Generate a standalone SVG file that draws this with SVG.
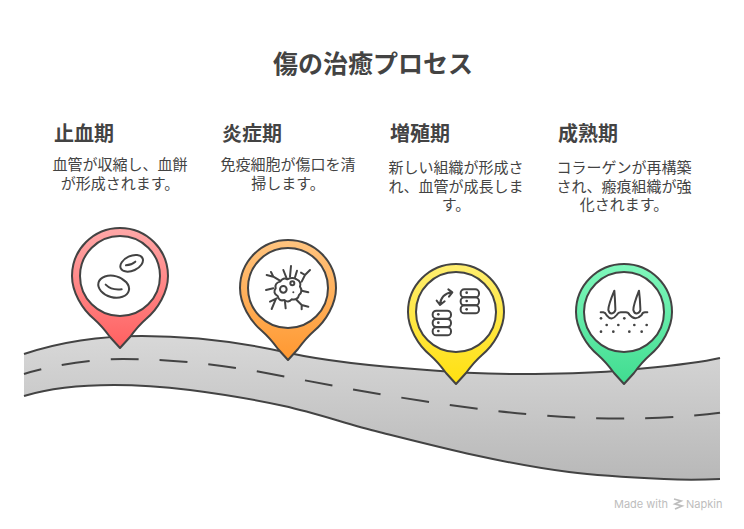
<svg xmlns="http://www.w3.org/2000/svg" width="744" height="529" viewBox="0 0 744 529">
<style>
text{font-family:"Noto Sans CJK JP","Noto Sans",sans-serif;fill:#434343}
.t{font-size:25px;font-weight:700;text-anchor:middle}
.h{font-size:20px;font-weight:700}
.b{font-size:15px;text-anchor:middle}
.pin{stroke:#434343;stroke-width:2;stroke-linejoin:round}
.in{fill:#fff;stroke:#434343;stroke-width:2}
.ic{fill:none;stroke:#434343;stroke-width:6;stroke-linecap:round;stroke-linejoin:round}
.d{fill:#434343;stroke:none}
.edge{fill:none;stroke:#434343;stroke-width:2}
.wm{font-family:"Inter","Roboto",sans-serif;font-size:11px;fill:#bdbdbd}
</style>
<defs>
<linearGradient id="road" x1="0" y1="0" x2="0" y2="1"><stop offset="0" stop-color="#d8d8d8"/><stop offset="1" stop-color="#b8b8b8"/></linearGradient>
<linearGradient id="g1" x1="0" y1="0" x2="0" y2="1"><stop offset="0" stop-color="#ffa8a8"/><stop offset="1" stop-color="#ff6060"/></linearGradient>
<linearGradient id="g2" x1="0" y1="0" x2="0" y2="1"><stop offset="0" stop-color="#ffc47f"/><stop offset="1" stop-color="#ff9830"/></linearGradient>
<linearGradient id="g3" x1="0" y1="0" x2="0" y2="1"><stop offset="0" stop-color="#ffee70"/><stop offset="1" stop-color="#ffe010"/></linearGradient>
<linearGradient id="g4" x1="0" y1="0" x2="0" y2="1"><stop offset="0" stop-color="#80f8bc"/><stop offset="1" stop-color="#40dc90"/></linearGradient>
<path id="pin" d="M0 72L-10 61Q-18 50-26 43C-38 33-48 16-48 0A48 48 0 1 1 48 0C48 16 38 33 26 43Q18 50 10 61Z"/>
</defs>
<text id="title" class="t" x="373" y="73">傷の治癒プロセス</text>
<g id="road-band">
<path fill="url(#road)" d="M24 354C60 342 100 336 142 336C195 336 245 343 289 353C330 362 385 367 427 370C460 373 490 374 521 374C560 374 590 373 616 371C655 367 690 365 720 358V479C700 480 682 480 664 479C632 477.500 601 476 569 472C537 468 506 462 474 455C442 448 411 440 379 432C347 424 316 413 284 406C252 399 221 394 190 390C165 387 140 385 114 385C85 385 50 388 24 396Z"/>
</g>
<g id="connectors">
<path class="edge" d="M24 354C60 342 100 336 142 336C195 336 245 343 289 353C330 362 385 367 427 370C460 373 490 374 521 374C560 374 590 373 616 371C655 367 690 365 720 358"/>
<path class="edge" d="M720 479C700 480 682 480 664 479C632 477.500 601 476 569 472C537 468 506 462 474 455C442 448 411 440 379 432C347 424 316 413 284 406C252 399 221 394 190 390C165 387 140 385 114 385C85 385 50 388 24 396"/>
<path class="edge" stroke-dasharray="28 21" stroke-dashoffset="10" d="M24 374C50 366 90 359 123 359C165 359 205 363 250 370C300 379 350 390 423 401C470 408.500 530 416 590 418C630 419.500 680 418 720 412.700"/>
</g>
<g id="node-hemostasis">
<text class="h" x="54" y="141">止血期</text>
<text class="b" y="170.300"><tspan x="120">血管が収縮し、血餅</tspan><tspan x="120" dy="18.500">が形成されます。</tspan></text>
<use href="#pin" class="pin" fill="url(#g1)" transform="translate(120 276)"/>
<circle class="in" cx="120" cy="276" r="40"/>
<g transform="translate(50 220) scale(.3333)" class="ic">
<ellipse cx="191" cy="200" rx="47" ry="32" transform="rotate(15 191 200)"/>
<path d="M167 194Q185 212 215 208"/>
<ellipse cx="245" cy="130" rx="36" ry="22" transform="rotate(-25 245 130)"/>
<path d="M228 136Q245 135 256 125"/>
</g>
</g>
<g id="node-inflammation">
<text class="h" x="222" y="141">炎症期</text>
<text class="b" y="170.300"><tspan x="288">免疫細胞が傷口を清</tspan><tspan x="288" dy="18.500">掃します。</tspan></text>
<use href="#pin" class="pin" fill="url(#g2)" transform="translate(288 288)"/>
<circle class="in" cx="288" cy="288" r="40"/>
<g transform="translate(255 260) scale(.3333)" class="ic">
<path d="M75 65Q85 50 97 58Q112 50 125 58Q140 65 135 80Q145 95 132 105Q128 122 110 118Q100 130 88 120Q72 125 68 108Q52 98 62 85Q58 70 75 65Z"/>
<circle cx="85" cy="88" r="10"/>
<circle cx="112" cy="70" r="6"/>
<circle class="d" cx="115" cy="97" r="3"/>
<path d="M75 62L55 50L35 45M55 50L48 36M95 55L85 30M105 50L108 18M120 52L126 32M140 65L150 45L165 30M150 45L138 38M55 85L33 90M140 92L160 97M65 115L45 125M62 118L50 147M90 125L92 145M125 120L140 135L140 148M140 135L160 140"/>
</g>
</g>
<g id="node-proliferation">
<text class="h" x="390" y="141">増殖期</text>
<text class="b" y="173"><tspan x="456">新しい組織が形成さ</tspan><tspan x="456" dy="18.500">れ、血管が成長しま</tspan><tspan x="456" dy="18.500">す。</tspan></text>
<use href="#pin" class="pin" fill="url(#g3)" transform="translate(456 312)"/>
<circle class="in" cx="456" cy="312" r="40"/>
<g transform="translate(420 280) scale(.3333)" class="ic">
<rect x="38" y="92" width="55" height="24" rx="11"/>
<rect x="38" y="117" width="55" height="24" rx="11"/>
<rect x="38" y="142" width="55" height="24" rx="11"/>
<rect x="122" y="28" width="55" height="24" rx="11"/>
<rect x="122" y="52" width="55" height="24" rx="11"/>
<rect x="122" y="76" width="55" height="24" rx="11"/>
<circle class="d" cx="55" cy="103" r="4"/><circle class="d" cx="55" cy="128" r="4"/><circle class="d" cx="55" cy="153" r="4"/>
<circle class="d" cx="140" cy="38" r="4"/><circle class="d" cx="140" cy="63" r="4"/><circle class="d" cx="140" cy="88" r="4"/>
<path d="M60 75Q62 42 96 37M85 28L97 37L87 50M50 62L60 75L74 64"/>
</g>
</g>
<g id="node-maturation">
<text class="h" x="558" y="141">成熟期</text>
<text class="b" y="173"><tspan x="624">コラーゲンが再構築</tspan><tspan x="624" dy="18.500">され、瘢痕組織が強</tspan><tspan x="624" dy="18.500">化されます。</tspan></text>
<use href="#pin" class="pin" fill="url(#g4)" transform="translate(624 312)"/>
<circle class="in" cx="624" cy="312" r="40"/>
<g transform="translate(590 280) scale(.3333)" class="ic">
<path d="M73 32Q55 75 55 90Q58 102 67 100Q78 95 76 85Q75 55 73 32Z"/>
<path d="M147 32Q130 75 130 90Q133 102 142 100Q153 95 151 85Q150 55 147 32Z"/>
<path d="M32 97H40Q46 98 50 106Q65 125 80 105Q85 97 92 97H108Q115 97 119 105Q135 125 155 105Q158 97 165 97H172"/>
<g class="d">
<circle cx="33" cy="115" r="4"/><circle cx="103" cy="115" r="4"/>
<circle cx="50" cy="135" r="4"/><circle cx="85" cy="135" r="4"/><circle cx="133" cy="135" r="4"/><circle cx="170" cy="135" r="4"/>
<circle cx="33" cy="155" r="4"/><circle cx="70" cy="155" r="4"/><circle cx="118" cy="155" r="4"/><circle cx="155" cy="155" r="4"/>
</g>
</g>
</g>
<g id="watermark">
<text class="wm" x="614" y="508">Made with</text>
<path d="M674 499L681 501L675 504L682 506L675 509" fill="none" stroke="#bdbdbd" stroke-width="1.800"/>
<text class="wm" x="686" y="508">Napkin</text>
</g>
</svg>
